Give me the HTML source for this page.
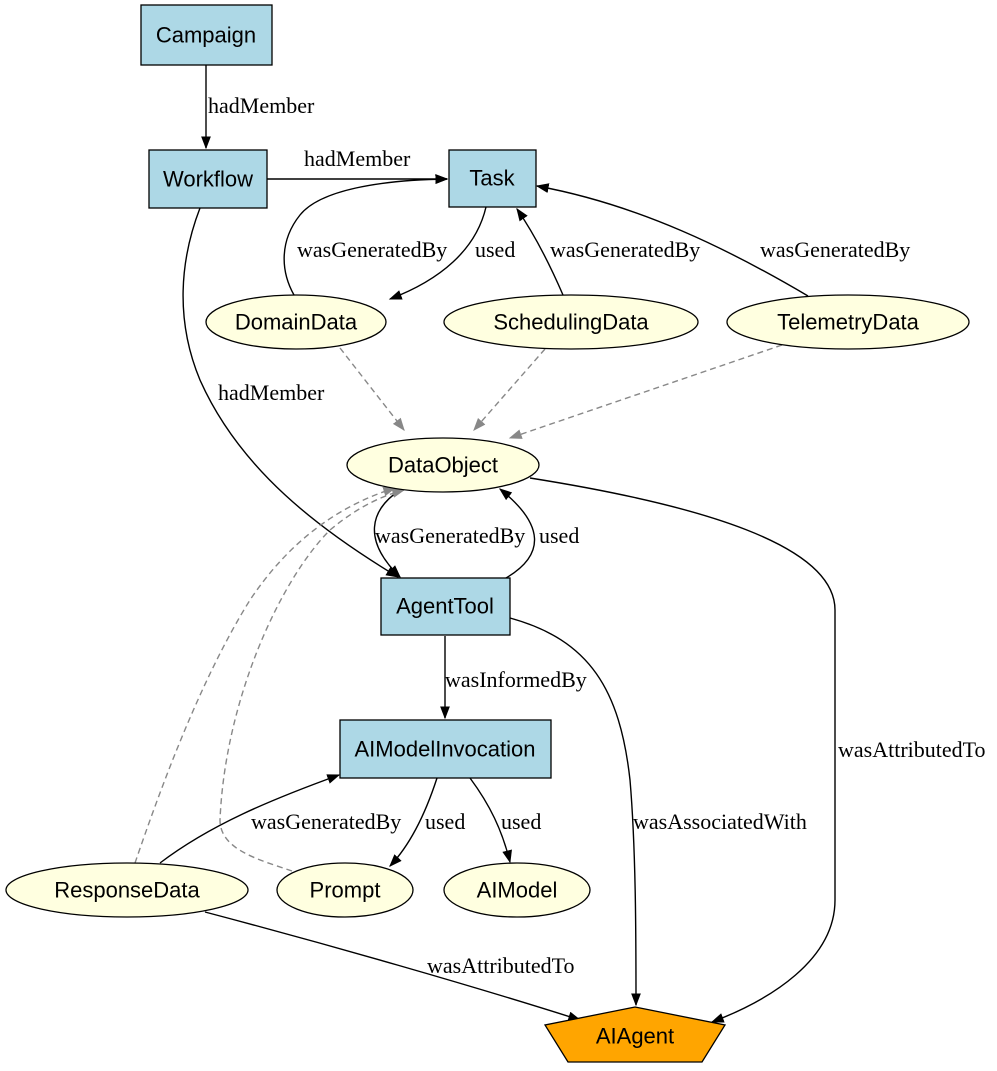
<!DOCTYPE html>
<html><head><meta charset="utf-8"><style>
html,body{margin:0;padding:0;background:#fff}
svg{display:block}
.n{font-family:"Liberation Sans",Arial,sans-serif;font-size:22px;text-anchor:middle;dominant-baseline:central;fill:#000}
.l{font-family:"Liberation Serif","Times New Roman",serif;font-size:22px;fill:#000}
.box{fill:#add8e6;stroke:#000;stroke-width:1.3}
.ell{fill:#ffffe0;stroke:#000;stroke-width:1.3}
.e{fill:none;stroke:#000;stroke-width:1.4}
.d{fill:none;stroke:#888;stroke-width:1.4;stroke-dasharray:6,4}
</style></head><body>
<svg width="997" height="1071" viewBox="0 0 997 1071" xmlns="http://www.w3.org/2000/svg">
<defs>
<marker id="a" viewBox="0 0 10 10" refX="9" refY="5" markerWidth="13" markerHeight="13" markerUnits="userSpaceOnUse" orient="auto"><path d="M0,1.2 L10,5 L0,8.8 z" fill="#000"/></marker>
<marker id="g" viewBox="0 0 10 10" refX="9" refY="5" markerWidth="13" markerHeight="13" markerUnits="userSpaceOnUse" orient="auto"><path d="M0,1.2 L10,5 L0,8.8 z" fill="#888"/></marker>
</defs>

<path class="e" marker-end="url(#a)" d="M206,65 L206,148"/>
<text class="l" x="208" y="113">hadMember</text>
<path class="e" marker-end="url(#a)" d="M267,179 L447,179"/>
<text class="l" x="304" y="166">hadMember</text>
<path class="e" marker-end="url(#a)" d="M486,207 C476,250 440,280 390,299"/>
<text class="l" x="475" y="257">used</text>
<path class="e" marker-end="url(#a)" d="M294,295 C280,270 280,240 300,215 C320,190 380,180 447,179"/>
<text class="l" x="297" y="257">wasGeneratedBy</text>
<path class="e" marker-end="url(#a)" d="M563,295 C550,265 535,235 517,209"/>
<text class="l" x="550" y="257">wasGeneratedBy</text>
<path class="e" marker-end="url(#a)" d="M808,296 C730,250 640,205 537,186"/>
<text class="l" x="760" y="257">wasGeneratedBy</text>
<path class="d" marker-end="url(#g)" d="M340,348 L404,430"/>
<path class="d" marker-end="url(#g)" d="M545,349 L474,430"/>
<path class="d" marker-end="url(#g)" d="M782,345 L510,438"/>
<path class="e" marker-end="url(#a)" d="M200,208 C180,260 175,320 200,380 C240,470 320,530 398,577"/>
<text class="l" x="218" y="400">hadMember</text>
<path class="e" marker-end="url(#a)" d="M400,490 C370,510 362,540 400,577"/>
<text class="l" x="375" y="543">wasGeneratedBy</text>
<path class="e" marker-end="url(#a)" d="M506,578 C545,555 545,525 500,489"/>
<text class="l" x="539" y="543">used</text>
<path class="e" marker-end="url(#a)" d="M530,478 C700,505 835,545 835,610 L835,900 C835,960 770,1000 712,1022"/>
<text class="l" x="838" y="757">wasAttributedTo</text>
<path class="e" marker-end="url(#a)" d="M445,636 L445,718"/>
<text class="l" x="445" y="687">wasInformedBy</text>
<path class="e" marker-end="url(#a)" d="M510,618 C590,640 620,690 630,780 C636,850 636,940 636,1005"/>
<text class="l" x="633" y="829">wasAssociatedWith</text>
<path class="e" marker-end="url(#a)" d="M160,863 C210,825 270,800 339,775"/>
<text class="l" x="251" y="829">wasGeneratedBy</text>
<path class="e" marker-end="url(#a)" d="M437,778 C425,815 410,845 390,866"/>
<text class="l" x="425" y="829">used</text>
<path class="e" marker-end="url(#a)" d="M470,778 C490,805 502,830 510,862"/>
<text class="l" x="501" y="829">used</text>
<path class="d" marker-end="url(#g)" d="M135,863 C160,790 200,680 250,600 C290,540 340,505 395,488"/>
<path class="d" marker-end="url(#g)" d="M292,871 C260,860 220,850 220,820 C225,700 280,580 330,530 C360,505 385,495 404,490"/>
<path class="e" marker-end="url(#a)" d="M205,912 C330,945 470,985 580,1020"/>
<text class="l" x="427" y="973">wasAttributedTo</text>

<rect class="box" x="141" y="5" width="131" height="60"/><text class="n" x="206" y="35">Campaign</text>
<rect class="box" x="149" y="150" width="118" height="58"/><text class="n" x="208" y="179">Workflow</text>
<rect class="box" x="449" y="150" width="87" height="57"/><text class="n" x="492" y="178">Task</text>
<ellipse class="ell" cx="296" cy="322" rx="90" ry="27"/><text class="n" x="296" y="322">DomainData</text>
<ellipse class="ell" cx="571" cy="322" rx="127" ry="27"/><text class="n" x="571" y="322">SchedulingData</text>
<ellipse class="ell" cx="848" cy="322" rx="121" ry="27"/><text class="n" x="848" y="322">TelemetryData</text>
<ellipse class="ell" cx="443" cy="465" rx="96" ry="27"/><text class="n" x="443" y="465">DataObject</text>
<rect class="box" x="381" y="578" width="129" height="57"/><text class="n" x="445" y="606">AgentTool</text>
<rect class="box" x="340" y="720" width="211" height="58"/><text class="n" x="445" y="749">AIModelInvocation</text>
<ellipse class="ell" cx="127" cy="890" rx="121" ry="27"/><text class="n" x="127" y="890">ResponseData</text>
<ellipse class="ell" cx="345" cy="890" rx="68" ry="27"/><text class="n" x="345" y="890">Prompt</text>
<ellipse class="ell" cx="517" cy="890" rx="73" ry="27"/><text class="n" x="517" y="890">AIModel</text>
<polygon points="635,1007 725,1025 702,1062 568,1062 545,1025" fill="#ffa500" stroke="#000" stroke-width="1.3"/>
<text class="n" x="635" y="1036">AIAgent</text>
</svg>
</body></html>
